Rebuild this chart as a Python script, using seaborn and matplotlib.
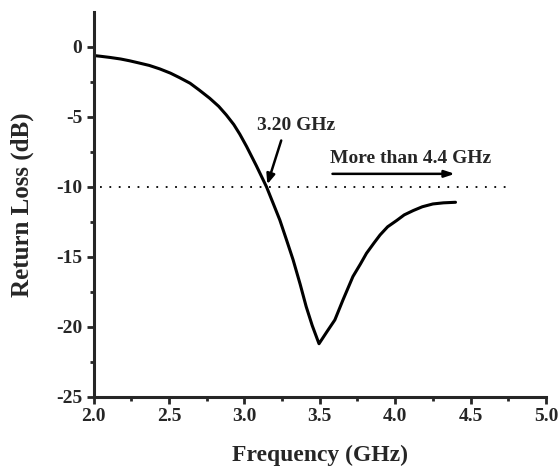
import numpy as np
import pandas as pd
import matplotlib
matplotlib.use("Agg")
import matplotlib.pyplot as plt
from matplotlib.ticker import FixedLocator
import seaborn as sns

# Measured return loss of the antenna
freq_ghz = [2.0, 2.05, 2.11, 2.18, 2.24, 2.30, 2.37, 2.44, 2.51, 2.57, 2.64,
            2.70, 2.77, 2.83, 2.88, 2.93, 2.97, 3.015, 3.08, 3.147, 3.19,
            3.235, 3.28, 3.323, 3.37, 3.41, 3.45, 3.495, 3.55, 3.60, 3.654,
            3.72, 3.77, 3.81, 3.86, 3.90, 3.95, 4.01, 4.06, 4.12, 4.18, 4.25,
            4.32, 4.40]
return_loss_db = [-0.62, -0.68, -0.76, -0.87, -1.0, -1.15, -1.33, -1.58,
                  -1.88, -2.2, -2.6, -3.08, -3.67, -4.25, -4.86, -5.55,
                  -6.24, -7.12, -8.5, -10.0, -11.15, -12.36, -13.8, -15.2,
                  -16.95, -18.55, -19.9, -21.2, -20.3, -19.5, -18.07, -16.4,
                  -15.5, -14.74, -14.0, -13.43, -12.85, -12.4, -12.0, -11.69,
                  -11.42, -11.22, -11.14, -11.1]

threshold_db = -10
crossing_ghz = 3.147
bandwidth_start, bandwidth_end = 3.566, 4.414

x_ticks = [2.0, 2.5, 3.0, 3.5, 4.0, 4.5, 5.0]
y_ticks = [0, -5, -10, -15, -20, -25]

df = pd.DataFrame({"Frequency (GHz)": freq_ghz, "Return Loss (dB)": return_loss_db})

sns.set_style("ticks")
plt.rcParams["font.family"] = ["Liberation Serif", "DejaVu Serif"]
plt.rcParams["font.weight"] = "bold"

fig = plt.figure(figsize=(5.6, 4.72), dpi=100)
ax = fig.add_axes([0.167, 0.159, 0.808, 0.816])

sns.lineplot(data=df, x="Frequency (GHz)", y="Return Loss (dB)", ax=ax,
             color="black", linewidth=2.2)

# -10 dB reference line
ax.plot([2.04, 4.76], [threshold_db, threshold_db], color="black",
        linewidth=1.3, linestyle=(0, (1, 4.2)))

ax.annotate("", xy=(crossing_ghz, threshold_db), xytext=(3.25, -6.5),
            arrowprops=dict(arrowstyle="-|>,head_length=0.6,head_width=0.25",
                            color="black", lw=1.8))
ax.text(3.34, -5.6, "3.20 GHz", ha="center", va="center", fontsize=14,
        fontweight="bold")

ax.annotate("", xy=(bandwidth_end, -9.07), xytext=(bandwidth_start, -9.07),
            arrowprops=dict(arrowstyle="-|>,head_length=0.6,head_width=0.2",
                            color="black", lw=1.8))
ax.text(4.1, -8.0, "More than 4.4 GHz", ha="center", va="center",
        fontsize=14, fontweight="bold")

ax.set_xlim(2.0, 5.0)
ax.set_ylim(-25, 2.5)
ax.set_xticks(x_ticks)
ax.set_yticks(y_ticks)
ax.set_xticklabels([f"{v:.1f}" for v in x_ticks])
ax.set_yticklabels([str(v) for v in y_ticks])
ax.xaxis.set_minor_locator(FixedLocator(np.arange(2.25, 5.0, 0.5)))
ax.yaxis.set_minor_locator(FixedLocator(np.arange(-22.5, 0, 5)))

ax.set_xlabel("Frequency (GHz)", fontsize=17, fontweight="bold", labelpad=14)
ax.set_ylabel("Return Loss (dB)", fontsize=18, fontweight="bold", labelpad=16)

for s in ["top", "right"]:
    ax.spines[s].set_visible(False)
for s in ["left", "bottom"]:
    ax.spines[s].set_linewidth(2.2)

ax.tick_params(which="major", direction="out", length=5, width=2,
               labelsize=14, pad=3)
ax.tick_params(which="minor", direction="out", length=3, width=2)
for lab in ax.get_xticklabels() + ax.get_yticklabels():
    lab.set_fontweight("bold")

fig.savefig("out.png", dpi=100)
